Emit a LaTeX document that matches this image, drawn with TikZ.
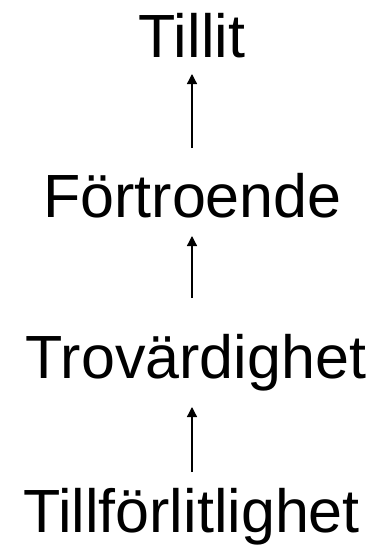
\documentclass[tikz,border=0pt]{standalone}
\usepackage{fontspec}
\setmainfont{Liberation Sans}
\usetikzlibrary{arrows.meta}
\begin{document}
\begin{tikzpicture}[x=1pt,y=1pt,
  lbl/.style={anchor=base,inner sep=0pt,font=\fontsize{61}{73}\selectfont},
  arr/.style={line width=1.3pt,-{Triangle[length=10pt,width=10pt]}}]
\useasboundingbox (0,0) rectangle (374,-554);
\node[lbl] (t)  at (192,-57)  {Tillit};
\node[lbl] (f)  at (192.5,-217) {Förtroende};
\node[lbl] (tv) at (196,-378) {Trovärdighet};
\node[lbl] (tf) at (191.5,-532) {Tillförlitlighet};
\draw[arr] ([yshift=69pt,xshift=-0.5pt]f.base) -- ([yshift=-17pt]t.base);
\draw[arr] ([yshift=80pt,xshift=-4pt]tv.base) -- ([yshift=-19pt,xshift=-0.5pt]f.base);
\draw[arr] ([yshift=60pt,xshift=0.5pt]tf.base) -- ([yshift=-29pt,xshift=-4pt]tv.base);
\end{tikzpicture}
\end{document}
